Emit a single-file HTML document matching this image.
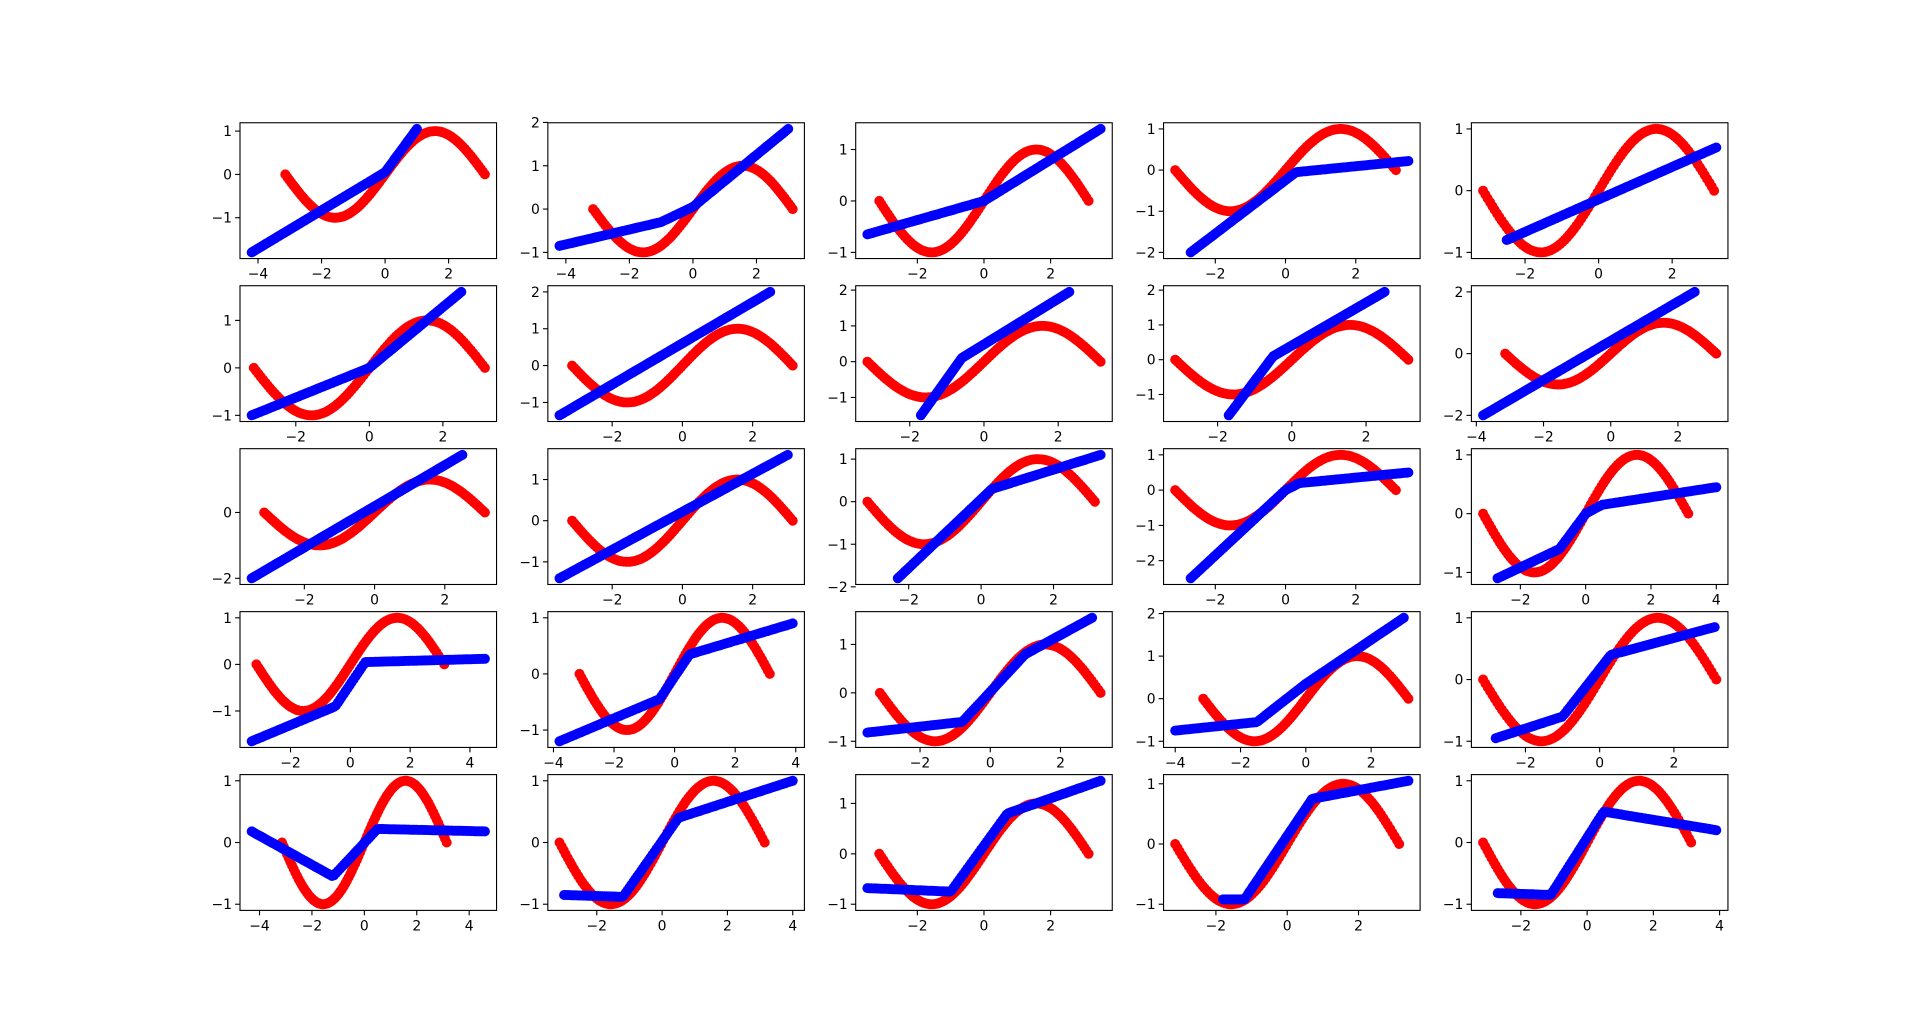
<!DOCTYPE html>
<html><head><meta charset="utf-8"><style>
html,body{margin:0;padding:0;background:#fff;}
svg{display:block;}
text{font-family:"DejaVu Sans","Liberation Sans",sans-serif;font-size:13.9px;fill:#000;}
</style></head><body>
<svg id="s" width="1920" height="1023" xmlns="http://www.w3.org/2000/svg"></svg>
<script>
const P=[
[[-4.2,-1.8],[0,0.05],[1,1.05]],[-4,-2,0,2],[-1,0,1],
[[-4.2,-0.85],[-1,-0.3],[0,0.05],[3,1.85]],[-4,-2,0,2],[-1,0,1,2],
[[-3.5,-0.65],[0,0],[3.5,1.4]],[-2,0,2],[-1,0,1],
[[-2.7,-2.0],[0.3,-0.05],[3.5,0.22]],[-2,0,2],[-2,-1,0,1],
[[-2.5,-0.8],[3.2,0.7]],[-2,0,2],[-1,0,1],
[[-3.2,-1],[0,0],[2.5,1.6]],[-2,0,2],[-1,0,1],
[[-3.5,-1.35],[2.5,2]],[-2,0,2],[-1,0,1,2],
[[-1.7,-1.5],[-0.6,0.1],[2.3,1.95]],[-2,0,2],[-1,0,1,2],
[[-1.7,-1.6],[-0.5,0.1],[2.5,1.95]],[-2,0,2],[-1,0,1,2],
[[-3.8,-2],[2.5,2]],[-4,-2,0,2],[-2,0,2],
[[-3.5,-2],[2.5,1.75]],[-2,0,2],[-2,0],
[[-3.5,-1.4],[3,1.6]],[-2,0,2],[-1,0,1],
[[-2.3,-1.8],[0.3,0.3],[3.3,1.1]],[-2,0,2],[-2,-1,0,1],
[[-2.7,-2.5],[0,0],[0.4,0.2],[3.5,0.5]],[-2,0,2],[-2,-1,0,1],
[[-2.7,-1.1],[-0.8,-0.6],[0,0],[0.5,0.15],[4,0.45]],[-2,0,2,4],[-1,0,1],
[[-3.3,-1.65],[-0.5,-0.9],[0.5,0.05],[4.5,0.12]],[-2,0,2,4],[-1,0,1],
[[-3.8,-1.2],[-0.5,-0.45],[0.5,0.35],[3.9,0.9]],[-4,-2,0,2,4],[-1,0,1],
[[-3.5,-0.82],[-0.8,-0.6],[1,0.8],[2.9,1.55]],[-2,0,2],[-1,0,1],
[[-4,-0.75],[-1.5,-0.55],[0,0.35],[3,1.9]],[-4,-2,0,2],[-1,0,1,2],
[[-2.8,-0.95],[-1,-0.6],[0.3,0.4],[3.1,0.85]],[-2,0,2],[-1,0,1],
[[-4.3,0.18],[-1.2,-0.55],[0.5,0.22],[4.6,0.18]],[-4,-2,0,2,4],[-1,0,1],
[[-3,-0.85],[-1.2,-0.88],[0.5,0.4],[4,1]],[-2,0,2,4],[-1,0,1],
[[-3.5,-0.68],[-1,-0.75],[0.7,0.8],[3.5,1.45]],[-2,0,2],[-1,0,1],
[[-1.8,-0.92],[-1.2,-0.92],[0.7,0.75],[3.4,1.05]],[-2,0,2],[-1,0,1],
[[-2.7,-0.82],[-1.1,-0.85],[0.5,0.5],[3.9,0.2]],[-2,0,2,4],[-1,0,1]
];
const W=256.55,H=135.8,GX=51.3,GY=27.16,L=240,T=122.76,R=5;
let out='';
function interp(pts,x){for(let i=0;i<pts.length-1;i++){if(x<=pts[i+1][0]||i==pts.length-2){const a=pts[i],b=pts[i+1];return a[1]+(b[1]-a[1])*(x-a[0])/(b[0]-a[0]);}}}
function lab(v){return (v<0?'\u2212':'')+Math.abs(v);}
for(let k=0;k<25;k++){
 const blue=P[k*3],xt=P[k*3+1],yt=P[k*3+2];
 const r=Math.floor(k/5),c=k%5;
 const x0=L+c*(W+GX),y0=T+r*(H+GY);
 const bx0=blue[0][0],bx1=blue[blue.length-1][0];
 let bys=[];const N=120;const bp=[];
 for(let i=0;i<N;i++){const x=bx0+(bx1-bx0)*i/(N-1);const y=interp(blue,x);bp.push([x,y]);bys.push(y);}
 let xmin=Math.min(-Math.PI,bx0),xmax=Math.max(Math.PI,bx1);
 let ymin=Math.min(-1,...bys),ymax=Math.max(1,...bys);
 const dx=(xmax-xmin)*0.05,dy=(ymax-ymin)*0.05;xmin-=dx;xmax+=dx;ymin-=dy;ymax+=dy;
 const sx=x=>x0+(x-xmin)/(xmax-xmin)*W, sy=y=>y0+H-(y-ymin)/(ymax-ymin)*H;
 out+=`<clipPath id="c${k}"><rect x="${x0}" y="${y0}" width="${W}" height="${H}"/></clipPath><g clip-path="url(#c${k})">`;
 for(let i=0;i<100;i++){const x=-Math.PI+2*Math.PI*i/99;out+=`<circle cx="${sx(x).toFixed(1)}" cy="${sy(Math.sin(x)).toFixed(1)}" r="${R}" fill="#ff0000"/>`;}
 for(const p of bp)out+=`<circle cx="${sx(p[0]).toFixed(1)}" cy="${sy(p[1]).toFixed(1)}" r="${R}" fill="#0000ff"/>`;
 out+='</g>';
 out+=`<rect x="${x0}" y="${y0}" width="${W}" height="${H}" fill="none" stroke="#000" stroke-width="1.1"/>`;
 for(const t of xt){const X=sx(t);out+=`<line x1="${X}" y1="${y0+H}" x2="${X}" y2="${y0+H+4.9}" stroke="#000" stroke-width="1.1"/><text x="${X}" y="${y0+H+20}" text-anchor="middle">${lab(t)}</text>`;}
 for(const t of yt){const Y=sy(t);out+=`<line x1="${x0}" y1="${Y}" x2="${x0-4.9}" y2="${Y}" stroke="#000" stroke-width="1.1"/><text x="${x0-8}" y="${Y+5}" text-anchor="end">${lab(t)}</text>`;}
}
document.getElementById('s').innerHTML=out;
</script>
</body></html>
